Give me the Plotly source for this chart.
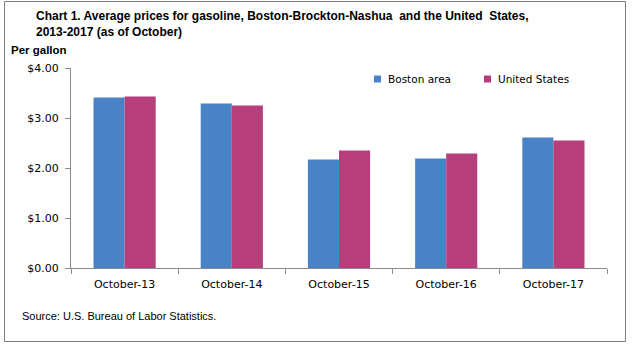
import plotly.graph_objects as go

# Average gasoline prices, dollars per gallon (October of each year)
categories = ["October-13", "October-14", "October-15", "October-16", "October-17"]
boston_area = [3.41, 3.29, 2.17, 2.19, 2.61]
united_states = [3.43, 3.25, 2.35, 2.29, 2.55]
y_ticks = [0, 1, 2, 3, 4]
y_tick_labels = ["$0.00", "$1.00", "$2.00", "$3.00", "$4.00"]

BLUE = "#4A82C6"
MAGENTA = "#B63E7B"
AXIS_GRAY = "#8C8C8C"

W, H = 634, 346
L, R, T, B = 71, 27, 68, 78
plot_w, plot_h = W - L - R, H - T - B


def px_x(x):
    return (x - L) / plot_w


def px_y(y):
    return (H - B - y) / plot_h


fig = go.Figure()
fig.add_bar(x=categories, y=boston_area, name="Boston area",
            marker=dict(color=BLUE, line=dict(width=0)), showlegend=False)
fig.add_bar(x=categories, y=united_states, name="United States",
            marker=dict(color=MAGENTA, line=dict(width=0)), showlegend=False)

narrow = "Liberation Sans Narrow, Arial Narrow, Liberation Sans, sans-serif"
tick_font = dict(family="DejaVu Sans, Verdana, sans-serif", size=11, color="#000000")
legend_font = dict(family="DejaVu Sans, Verdana, sans-serif", size=10.5, color="#000000")


def note(text, x, y, font, xanchor="left", yanchor="middle"):
    return dict(text=text, xref="paper", yref="paper", x=px_x(x), y=px_y(y),
                xanchor=xanchor, yanchor=yanchor, align="left",
                font=font, showarrow=False)


annotations = [
    note("<b>Chart 1. Average prices for gasoline, Boston-Brockton-Nashua  and the United  States,</b>"
         "<br><b>2013-2017 (as of October)</b>",
         34, 24, dict(family=narrow, size=12, color="#000000")),
    note("<b>Per gallon</b>", 9, 50, dict(family=narrow, size=11.5, color="#000000")),
    note("Source: U.S. Bureau of Labor Statistics.", 20, 316,
         dict(family=narrow, size=11, color="#000000")),
    note("Boston area", 386, 79, legend_font),
    note("United States", 496, 79, legend_font),
]

shapes = [
    # outer frame
    dict(type="rect", xref="paper", yref="paper",
         x0=px_x(4.5), x1=px_x(625.5), y0=px_y(341.5), y1=px_y(1.5),
         line=dict(color="#7F7F7F", width=1), fillcolor="rgba(0,0,0,0)"),
    # legend swatches
    dict(type="rect", xref="paper", yref="paper",
         x0=px_x(374), x1=px_x(381), y0=px_y(82.5), y1=px_y(75.5),
         line=dict(width=0), fillcolor=BLUE),
    dict(type="rect", xref="paper", yref="paper",
         x0=px_x(484), x1=px_x(491), y0=px_y(82.5), y1=px_y(75.5),
         line=dict(width=0), fillcolor=MAGENTA),
]

fig.update_layout(
    width=W, height=H,
    margin=dict(l=L, r=R, t=T, b=B),
    paper_bgcolor="white", plot_bgcolor="white",
    barmode="group", bargap=0.42, bargroupgap=0,
    annotations=annotations, shapes=shapes,
    showlegend=False,
)
fig.update_xaxes(
    showline=True, linecolor=AXIS_GRAY, linewidth=1,
    ticks="outside", tickson="boundaries", ticklen=5, tickcolor=AXIS_GRAY,
    tickfont=tick_font, ticklabelstandoff=6, showgrid=False,
)
fig.update_yaxes(
    range=[0, 4], tickvals=y_ticks, ticktext=y_tick_labels,
    showline=True, linecolor=AXIS_GRAY, linewidth=1,
    ticks="outside", ticklen=5, tickcolor=AXIS_GRAY,
    tickfont=tick_font, ticklabelstandoff=4, showgrid=False, zeroline=False,
)

fig.write_html("out.html")
